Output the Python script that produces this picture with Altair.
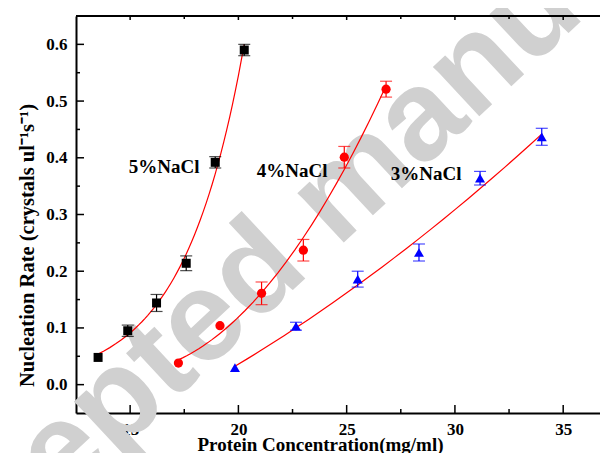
import altair as alt
import pandas as pd

# ---- data ----
x5 = [13.52, 14.89, 16.22, 17.59, 18.93, 20.27]
y5 = [0.048, 0.095, 0.144, 0.214, 0.392, 0.590]
e5 = [0.0, 0.010, 0.015, 0.013, 0.010, 0.010]

x4 = [17.23, 19.15, 21.07, 23.00, 24.89, 26.82]
y4 = [0.038, 0.104, 0.161, 0.237, 0.401, 0.521]
e4 = [0.0, 0.0, 0.020, 0.019, 0.019, 0.014]

x3 = [19.84, 22.66, 25.51, 28.34, 31.16, 34.01]
y3 = [0.030, 0.103, 0.186, 0.233, 0.364, 0.437]
e3 = [0.0, 0.007, 0.014, 0.015, 0.012, 0.015]

series_names = ["5%NaCl", "4%NaCl", "3%NaCl"]
series_colors = ["#000000", "#ff0000", "#0000ff"]
series_shapes = ["square", "circle", "triangle-up"]
series_sizes = [81, 85, 100]
fit_methods = ["exp", "poly", "poly"]

label_x = [16.57, 22.48, 28.67]
label_y = [0.374, 0.367, 0.361]

x_major = [15, 20, 25, 30, 35]
x_minor = [17.5, 22.5, 27.5, 32.5]
y_major = [0.0, 0.1, 0.2, 0.3, 0.4, 0.5, 0.6]
y_minor = [0.05, 0.15, 0.25, 0.35, 0.45, 0.55]

watermark = ["Accepted manuscript"]

# ---- build tables ----
rows = []
for name, xs_, ys_, es_ in zip(series_names, [x5, x4, x3], [y5, y4, y3], [e5, e4, e3]):
    for a, b, e in zip(xs_, ys_, es_):
        rows.append({"series": name, "x": a, "y": b, "lo": b - e, "hi": b + e})
df = pd.DataFrame(rows)
labels_df = pd.DataFrame({"series": series_names, "x": label_x, "y": label_y})

W, H = 524, 397
FONT = "Liberation Serif, Times New Roman, Times, serif"

xs = alt.Scale(domain=[12.5, 36.7], nice=False, zero=False)
ys = alt.Scale(domain=[-0.05, 0.65], nice=False, zero=False)

x_axis = alt.Axis(
    title="Protein Concentration(mg/ml)", values=x_major, format="d",
    ticks=False, tickSize=0, grid=False, domain=True, domainWidth=2, domainColor="black",
    labelFont=FONT, labelFontSize=17, labelFontWeight="bold", labelColor="black",
    labelPadding=8,
    titleFont=FONT, titleFontSize=19, titleFontWeight="bold", titleColor="black",
    titleX=244, titleY=37, titleBaseline="alphabetic",
)
y_axis = alt.Axis(
    title="Nucleation Rate (crystals ul⁻¹s⁻¹)", values=y_major, format=".1f",
    ticks=False, tickSize=0, grid=False, domain=True, domainWidth=2, domainColor="black",
    labelFont=FONT, labelFontSize=17, labelFontWeight="bold", labelColor="black",
    labelPadding=9,
    titleFont=FONT, titleFontSize=20.5, titleFontWeight="bold", titleColor="black",
    titleX=-43, titleY=229, titleBaseline="alphabetic", titleAngle=270,
)

X = lambda f: alt.X(f, scale=xs, axis=x_axis)
Y = lambda f: alt.Y(f, scale=ys, axis=y_axis)

base = alt.Chart(df)

wm = alt.Chart(pd.DataFrame({"t": watermark})).mark_text(
    angle=317, fontSize=128, font="Liberation Sans", fontWeight="bold",
    color="#d0d0d0", align="center", baseline="middle"
).encode(text="t:N", x=alt.value(264), y=alt.value(178))

layers = [wm]

for name, meth in zip(series_names, fit_methods):
    reg = dict(method=meth, order=2) if meth == "poly" else dict(method=meth)
    layers.append(
        base.transform_filter(alt.datum.series == name)
        .transform_regression("x", "y", **reg)
        .mark_line(color="#ff0000", strokeWidth=1.2)
        .encode(x=X("x:Q"), y=Y("y:Q"))
    )

for name, col, shp, sz in zip(series_names, series_colors, series_shapes, series_sizes):
    sub = base.transform_filter(alt.datum.series == name)
    layers.append(
        sub.transform_filter(alt.datum.hi > alt.datum.lo)
        .mark_errorbar(ticks=True, size=12, thickness=1.2, color=col)
        .encode(x=X("x:Q"), y=Y("lo:Q"), y2="hi:Q")
    )
    layers.append(
        sub.mark_point(filled=True, shape=shp, size=sz, color=col, opacity=1)
        .encode(x=X("x:Q"), y=Y("y:Q"))
    )

layers.append(
    alt.Chart(labels_df).mark_text(
        font=FONT, fontSize=19, fontWeight="bold", color="black",
        align="center", baseline="alphabetic"
    ).encode(x=X("x:Q"), y=Y("y:Q"), text="series:N")
)

# inward ticks
xmaj = pd.DataFrame({"v": x_major})
xmin = pd.DataFrame({"v": x_minor})
ymaj = pd.DataFrame({"v": y_major})
ymin = pd.DataFrame({"v": y_minor})

tick = dict(color="black", strokeWidth=1.5)
layers += [
    alt.Chart(xmaj).mark_rule(**tick).encode(x=X("v:Q"), y=alt.value(H - 8), y2=alt.value(H)),
    alt.Chart(xmin).mark_rule(**tick).encode(x=X("v:Q"), y=alt.value(H - 4), y2=alt.value(H)),
    alt.Chart(xmaj).mark_rule(**tick).encode(x=X("v:Q"), y=alt.value(0), y2=alt.value(4)),
    alt.Chart(xmin).mark_rule(**tick).encode(x=X("v:Q"), y=alt.value(0), y2=alt.value(3)),
    alt.Chart(ymaj).mark_rule(**tick).encode(y=Y("v:Q"), x=alt.value(0), x2=alt.value(8)),
    alt.Chart(ymin).mark_rule(**tick).encode(y=Y("v:Q"), x=alt.value(0), x2=alt.value(4)),
    alt.Chart(xmaj).mark_rule(color="black", strokeWidth=2).encode(
        x=alt.value(0), x2=alt.value(W), y=alt.value(0)
    ),
]

chart = alt.layer(*layers).properties(
    width=W, height=H,
    autosize=alt.AutoSizeParams(type="none"),
    padding={"left": 68, "top": 8, "right": 0, "bottom": 40},
).configure_view(stroke=None).configure(background="white")

chart.save("out.html", embed_options={"renderer": "svg", "actions": False})
